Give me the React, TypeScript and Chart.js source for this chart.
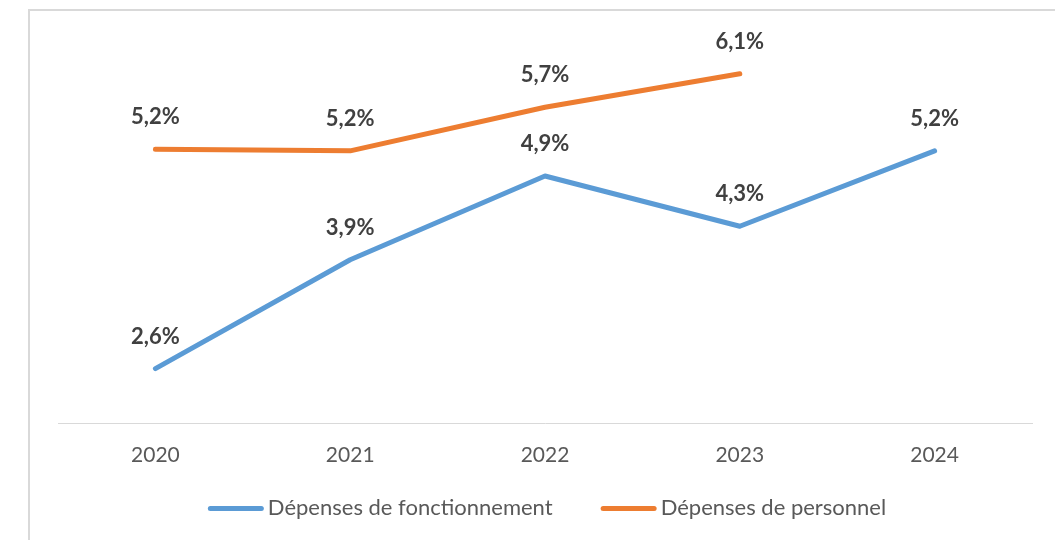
import React, { useEffect, useRef } from "react";
import { Chart, registerables } from "chart.js";

Chart.register(...registerables);

const years = ["2020", "2021", "2022", "2023", "2024"];
const fonctionnement = [2.6, 3.9, 4.9, 4.3, 5.2];
const personnel = [5.22, 5.2, 5.72, 6.12, null];
const seriesNames = ["Dépenses de fonctionnement", "Dépenses de personnel"];
const seriesColors = ["#5B9BD5", "#ED7D31"];

const FONT = "Lato, 'Open Sans', sans-serif";

const framePlugin = {
  id: "frame",
  beforeDraw(chart: any) {
    const ctx = chart.ctx;
    ctx.save();
    ctx.fillStyle = "#ffffff";
    ctx.fillRect(0, 0, chart.width, chart.height);
    ctx.strokeStyle = "#d9d9d9";
    ctx.lineWidth = 2;
    ctx.strokeRect(29, 10, chart.width + 50, chart.height + 50);
    ctx.restore();
  },
};

const labelPlugin = {
  id: "valueLabels",
  afterDatasetsDraw(chart: any) {
    const ctx = chart.ctx;
    ctx.save();
    ctx.font = `bold 22px ${FONT}`;
    ctx.fillStyle = "#404040";
    ctx.textAlign = "center";
    ctx.textBaseline = "alphabetic";
    chart.data.datasets.forEach((ds: any, i: number) => {
      const meta = chart.getDatasetMeta(i);
      meta.data.forEach((el: any, j: number) => {
        const v = ds.data[j];
        if (v === null || v === undefined) return;
        const txt = v.toFixed(1).replace(".", ",") + "%";
        ctx.fillText(txt, el.x, el.y - 25);
      });
    });
    ctx.restore();
  },
};

const legendPlugin = {
  id: "customLegend",
  afterDraw(chart: any) {
    const ctx = chart.ctx;
    ctx.save();
    ctx.font = `22px ${FONT}`;
    const lineW = 56;
    const gap = 4;
    const itemGap = 48;
    const widths = seriesNames.map((n) => ctx.measureText(n).width);
    const total =
      widths.reduce((a, w) => a + lineW + gap + w, 0) + itemGap * (seriesNames.length - 1);
    let x = 547 - total / 2;
    const y = 508.5;
    seriesNames.forEach((name, i) => {
      ctx.strokeStyle = seriesColors[i];
      ctx.lineWidth = 5;
      ctx.lineCap = "round";
      ctx.beginPath();
      ctx.moveTo(x + 2.5, y);
      ctx.lineTo(x + lineW - 2.5, y);
      ctx.stroke();
      ctx.fillStyle = "#595959";
      ctx.textAlign = "left";
      ctx.textBaseline = "alphabetic";
      ctx.fillText(name, x + lineW + gap, 515);
      x += lineW + gap + widths[i] + itemGap;
    });
    ctx.restore();
  },
};

export default function App() {
  const ref = useRef<HTMLCanvasElement>(null);
  useEffect(() => {
    if (!ref.current) return;
    const chart = new Chart(ref.current, {
      type: "line",
      data: {
        labels: years,
        datasets: [
          {
            label: seriesNames[0],
            data: fonctionnement,
            borderColor: seriesColors[0],
            backgroundColor: seriesColors[0],
            borderWidth: 5,
            pointRadius: 0,
            borderCapStyle: "round",
            borderJoinStyle: "round",
            tension: 0,
          },
          {
            label: seriesNames[1],
            data: personnel as any,
            borderColor: seriesColors[1],
            backgroundColor: seriesColors[1],
            borderWidth: 5,
            pointRadius: 0,
            borderCapStyle: "round",
            borderJoinStyle: "round",
            tension: 0,
          },
        ],
      },
      options: {
        responsive: false,
        animation: false,
        devicePixelRatio: 1,
        layout: { padding: { left: 58, right: 23, top: 42, bottom: 0 } },
        plugins: { legend: { display: false }, tooltip: { enabled: false } },
        scales: {
          x: {
            offset: true,
            grid: { display: false, drawTicks: false },
            border: { display: true, color: "#d9d9d9", width: 1 },
            ticks: {
              color: "#595959",
              font: { family: FONT, size: 21 },
              padding: 20,
            },
            afterFit(scale: any) {
              scale.height = 117;
            },
          },
          y: {
            display: false,
            min: 1.95,
            max: 6.5,
          },
        },
      },
      plugins: [framePlugin, labelPlugin, legendPlugin],
    });
    return () => chart.destroy();
  }, []);
  return (
    <div style={{ position: "absolute", left: 0, top: 0, width: 1055, height: 540 }}>
      <canvas ref={ref} width={1055} height={540} />
    </div>
  );
}
